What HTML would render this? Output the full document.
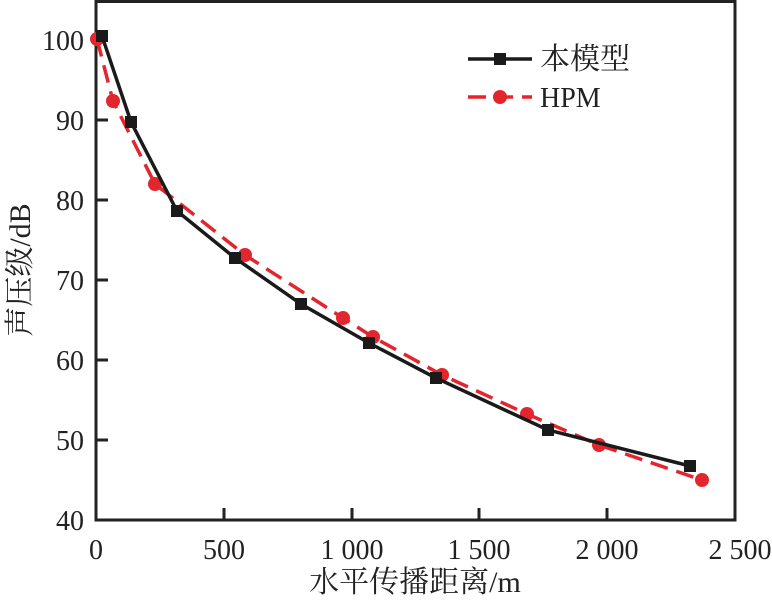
<!DOCTYPE html>
<html><head><meta charset="utf-8"><style>body{margin:0;background:#fff}svg{display:block}</style></head><body>
<svg width="772" height="602" xmlns="http://www.w3.org/2000/svg" font-family="Liberation Serif, Noto Serif CJK SC, serif">
<g stroke="#222" stroke-width="3" fill="none">
<rect x="96" y="1.5" width="639" height="518.5"/>
<path d="M96 40h12M96 120h12M96 200h12M96 280h12M96 360h12M96 440h12M224 520v-12M352 520v-12M479 520v-12M607 520v-12"/>
</g>
<g font-size="28" fill="#222" text-anchor="end">
<text x="84" y="50">100</text><text x="84" y="130">90</text><text x="84" y="210">80</text><text x="84" y="290">70</text><text x="84" y="370">60</text><text x="84" y="450">50</text><text x="84" y="530">40</text>
</g>
<g font-size="28" fill="#222" text-anchor="middle">
<text x="96" y="559">0</text><text x="224" y="559">500</text><text x="352" y="559">1 000</text><text x="479" y="559">1 500</text><text x="607" y="559">2 000</text><text x="740" y="559">2 500</text>
<text x="415" y="592" font-size="30">水平传播距离/m</text>
<text transform="translate(30,270) rotate(-90)" font-size="30">声压级/dB</text>
</g>
<polyline fill="none" stroke="#e3262e" stroke-width="3.5" stroke-dasharray="18,9" points="97,39 113,101 155,184 245,255 343,318 373,337 442,375 527,414 599,445 702,480"/>
<g fill="#e3262e"><circle cx="97" cy="39" r="7"/><circle cx="113" cy="101" r="7"/><circle cx="155" cy="184" r="7"/><circle cx="245" cy="255" r="7"/><circle cx="343" cy="318" r="7"/><circle cx="373" cy="337" r="7"/><circle cx="442" cy="375" r="7"/><circle cx="527" cy="414" r="7"/><circle cx="599" cy="445" r="7"/><circle cx="702" cy="480" r="7"/></g>
<polyline fill="none" stroke="#1a1a1a" stroke-width="3.5" points="102,36 131,122 177,211 235,258 301,304 369,343 436,378 548,430 690,466"/>
<g fill="#1a1a1a"><rect x="96" y="30" width="12" height="12"/><rect x="125" y="116" width="12" height="12"/><rect x="171" y="205" width="12" height="12"/><rect x="229" y="252" width="12" height="12"/><rect x="295" y="298" width="12" height="12"/><rect x="363" y="337" width="12" height="12"/><rect x="430" y="372" width="12" height="12"/><rect x="542" y="424" width="12" height="12"/><rect x="684" y="460" width="12" height="12"/></g>
<line x1="468" y1="59" x2="532" y2="59" stroke="#1a1a1a" stroke-width="3.5"/><rect x="494" y="53" width="12" height="12" fill="#1a1a1a"/>
<line x1="468" y1="97" x2="532" y2="97" stroke="#e3262e" stroke-width="3.5" stroke-dasharray="18,9"/><circle cx="500" cy="97" r="7" fill="#e3262e"/>
<text x="540" y="69" font-size="30" fill="#222">本模型</text>
<text x="540" y="107" font-size="28" fill="#222">HPM</text>
</svg>
</body></html>
